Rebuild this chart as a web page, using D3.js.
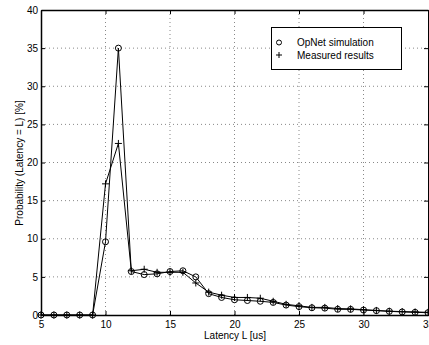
<!DOCTYPE html>
<html>
<head>
<meta charset="utf-8">
<script src="https://cdn.jsdelivr.net/npm/d3@7"></script>
<style>
  body { margin: 0; background: #fff; }
  text { font-family: "Liberation Sans", Arial, sans-serif; font-size: 10px; fill: #000; }
</style>
</head>
<body>
<svg id="chart" width="429" height="345"></svg>
<script>
// latency in us
const latency = [5,6,7,8,9,10,11,12,13,14,15,16,17,18,19,20,21,22,23,24,25,26,27,28,29,30,31,32,33,34,35];
const opnet = [0,0,0,0,0,9.6,35,5.7,5.3,5.4,5.7,5.8,5.0,2.8,2.3,2.0,1.9,1.8,1.65,1.3,1.1,0.95,0.9,0.75,0.74,0.65,0.57,0.48,0.4,0.35,0.3];
const measured = [0,0,0,0,0,17.2,22.5,5.8,6.0,5.6,5.6,5.6,4.2,3.0,2.6,2.3,2.3,2.2,1.8,1.4,1.2,1.0,1.0,0.85,0.8,0.7,0.6,0.5,0.45,0.4,0.35];
const xTicks = [5,10,15,20,25,30,35];
const yTicks = [0,5,10,15,20,25,30,35,40];
const legendLabels = ['OpNet simulation', 'Measured results'];

const svg = d3.select('#chart');
const pL = 41, pR = 428, pT = 10, pB = 315;

const x = d3.scaleLinear().domain([5, 35]).range([pL, pR]);
const y = d3.scaleLinear().domain([0, 40]).range([pB, pT]);

// dotted grid
const grid = svg.append('g');
grid.selectAll('.gx').data(xTicks.slice(1, -1)).join('line')
  .attr('x1', d => x(d)).attr('x2', d => x(d))
  .attr('y1', pT).attr('y2', pB)
  .attr('stroke', '#888').attr('stroke-dasharray', '1,3');
grid.selectAll('.gy').data(yTicks.slice(1, -1)).join('line')
  .attr('x1', pL).attr('x2', pR)
  .attr('y1', d => y(d)).attr('y2', d => y(d))
  .attr('stroke', '#888').attr('stroke-dasharray', '1,3');

// axes, ticks pointing inward like matlab
const xAxis = d3.axisBottom(x).tickValues(xTicks).tickSizeInner(-4).tickSizeOuter(0).tickPadding(6);
const yAxis = d3.axisLeft(y).tickValues(yTicks).tickSizeInner(-4).tickSizeOuter(0).tickPadding(3);

svg.append('g').attr('transform', `translate(0,${pB})`).call(xAxis)
  .call(g => g.select('.domain').attr('stroke-width', 1.5));
svg.append('g').attr('transform', `translate(${pL},0)`).call(yAxis)
  .call(g => g.select('.domain').attr('stroke-width', 1.5));
svg.append('g').attr('transform', `translate(0,${pT})`)
  .call(d3.axisTop(x).tickValues(xTicks).tickSizeInner(-4).tickSizeOuter(0).tickFormat(''))
  .call(g => g.select('.domain').attr('stroke-width', 1.5));
svg.append('g').attr('transform', `translate(${pR},0)`)
  .call(d3.axisRight(y).tickValues(yTicks).tickSizeInner(-4).tickSizeOuter(0).tickFormat(''));

svg.selectAll('.tick text').style('font-family', '"Liberation Sans", Arial, sans-serif').style('font-size', '10px');

const line = d3.line().x((d, i) => x(latency[i])).y(d => y(d));

svg.append('path').datum(opnet).attr('d', line).attr('fill', 'none').attr('stroke', '#000').attr('stroke-width', 1);
svg.append('path').datum(measured).attr('d', line).attr('fill', 'none').attr('stroke', '#000').attr('stroke-width', 1);

svg.append('g').selectAll('circle').data(opnet).join('circle')
  .attr('cx', (d, i) => x(latency[i])).attr('cy', d => y(d)).attr('r', 3)
  .attr('fill', 'none').attr('stroke', '#000');

svg.append('g').selectAll('path').data(measured).join('path')
  .attr('transform', (d, i) => `translate(${x(latency[i])},${y(d)})`)
  .attr('d', 'M-3.5,0H3.5M0,-3.5V3.5')
  .attr('stroke', '#000').attr('fill', 'none');

// legend
const lg = svg.append('g');
lg.append('rect').attr('x', 271.5).attr('y', 27.5).attr('width', 130).attr('height', 42)
  .attr('fill', '#fff').attr('stroke', '#000');
lg.append('circle').attr('cx', 279).attr('cy', 42.5).attr('r', 2.5).attr('fill', 'none').attr('stroke', '#000');
lg.append('path').attr('d', 'M276,55H282M279,52V58').attr('stroke', '#000');
lg.selectAll('text').data(legendLabels).join('text')
  .attr('x', 297).attr('y', (d, i) => 46 + i * 12.5).text(d => d);

// axis titles
svg.append('text').attr('x', 235).attr('y', 339).attr('text-anchor', 'middle').text('Latency L [us]');
svg.append('text').attr('transform', 'translate(23,163) rotate(-90)').attr('text-anchor', 'middle')
  .text('Probability (Latency = L) [%]');
</script>
</body>
</html>
